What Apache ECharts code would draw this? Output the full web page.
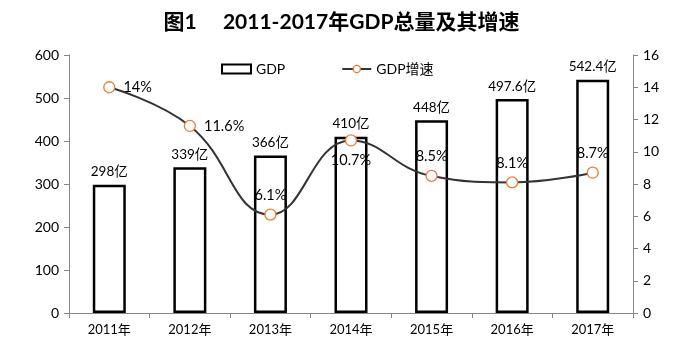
<!DOCTYPE html>
<html>
<head>
<meta charset="utf-8">
<script src="https://cdn.jsdelivr.net/npm/echarts@6/dist/echarts.min.js"></script>
<style>
  html, body { margin: 0; padding: 0; background: #fff; }
  #chart { width: 683px; height: 351px; }
</style>
</head>
<body>
<div id="chart"></div>
<script>
'use strict';

var years = ['2011年', '2012年', '2013年', '2014年', '2015年', '2016年', '2017年'];
var gdpValues = [298, 339, 366, 410, 448, 497.6, 542.4];
var growthValues = [14, 11.6, 6.1, 10.7, 8.5, 8.1, 8.7];
// 增速标签位置
var growthLabelPos = ['right', 'right', 'top', 'bottom', 'top', 'top', 'top'];

var font = 'Lato, "Noto Sans CJK SC", sans-serif';
var chart = echarts.init(document.getElementById('chart'));

var growthData = growthValues.map(function (v, i) {
    return {
        value: v,
        label: {
            position: growthLabelPos[i],
            distance: growthLabelPos[i] === 'right' ? 8 : 6
        }
    };
});

var option = {
    animation: false,
    textStyle: { fontFamily: font },
    title: {
        text: '图1　 2011-2017年GDP总量及其增速',
        left: 'center',
        top: 7,
        textStyle: { fontSize: 21, fontWeight: 'bold', color: '#000', fontFamily: font }
    },
    legend: {
        top: 57,
        left: 216,
        itemGap: 56,
        itemWidth: 29,
        itemHeight: 9,
        textStyle: { fontSize: 14, color: '#000', fontFamily: font },
        data: [
            { name: 'GDP', icon: 'rect' },
            { name: 'GDP增速', itemStyle: { color: '#fff', borderColor: '#ED7D31', borderWidth: 1.3 } }
        ]
    },
    grid: { left: 69, right: 50, top: 55, bottom: 38 },
    xAxis: {
        type: 'category',
        data: years,
        axisLine: { lineStyle: { color: '#868686' } },
        axisTick: { show: true, length: 5, lineStyle: { color: '#868686' } },
        axisLabel: { fontSize: 13, color: '#000', margin: 10 }
    },
    yAxis: [
        {
            type: 'value',
            min: 0, max: 600, interval: 100,
            axisLine: { show: true, lineStyle: { color: '#868686' } },
            axisTick: { show: true, length: 5, lineStyle: { color: '#868686' } },
            splitLine: { show: false },
            axisLabel: { fontSize: 14, color: '#000', margin: 10 }
        },
        {
            type: 'value',
            min: 0, max: 16, interval: 2,
            axisLine: { show: true, lineStyle: { color: '#868686' } },
            axisTick: { show: true, length: 5, lineStyle: { color: '#868686' } },
            splitLine: { show: false },
            axisLabel: { fontSize: 14, color: '#000', margin: 10 }
        }
    ],
    series: [
        {
            name: 'GDP',
            type: 'bar',
            data: gdpValues,
            barWidth: 33,
            itemStyle: { color: '#fff', borderColor: '#000', borderWidth: 2.5 },
            label: {
                show: true,
                position: 'top',
                distance: 6,
                fontSize: 13.5,
                color: '#000',
                formatter: '{c}亿'
            }
        },
        {
            name: 'GDP增速',
            type: 'line',
            yAxisIndex: 1,
            data: growthData,
            smooth: 0.45,
            symbol: 'circle',
            symbolSize: 11,
            lineStyle: { color: '#333', width: 2 },
            itemStyle: { color: '#fff', borderColor: '#ED7D31', borderWidth: 1.3 },
            label: {
                show: true,
                fontSize: 14.5,
                color: '#000',
                formatter: '{c}%'
            },
            z: 5
        }
    ]
};

chart.setOption(option);
</script>
</body>
</html>
